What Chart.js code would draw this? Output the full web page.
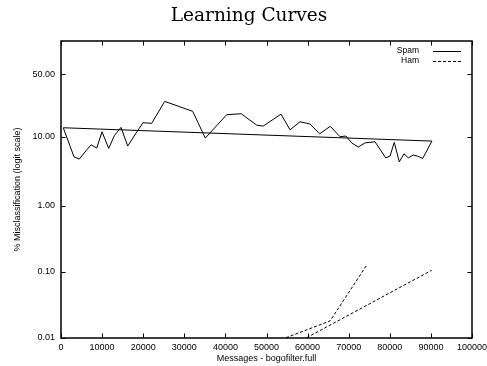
<!DOCTYPE html>
<html>
<head>
<meta charset="utf-8">
<script src="https://cdn.jsdelivr.net/npm/chart.js@4/dist/chart.umd.min.js"></script>
<style>
  html, body { margin: 0; padding: 0; background: #fff; }
  #wrap { width: 487px; height: 366px; }
</style>
</head>
<body>
<div id="wrap"><canvas id="c" width="487" height="366"></canvas></div>
<script>
// ---- data (percent misclassification vs messages) ----
const spamX = [560, 3160, 4450, 6080, 7300, 8690, 9980, 11600, 12970, 14600, 16230, 18420, 19950, 22070, 25230, 32040, 35110, 40320, 43870, 47600, 49220, 53530, 55720, 58150, 60580, 62940, 65520, 67880, 69340, 70730, 72330, 73960, 76400, 79000, 80050, 81090, 82310, 83450, 84500, 85710, 86780, 88000, 90260];
const spamY = [13.3, 5.27, 4.89, 6.43, 7.81, 7.02, 11.76, 6.94, 10.4, 13.46, 7.49, 11.66, 15.45, 15.2, 27.8, 21.4, 9.66, 19.5, 20.0, 14.4, 14.0, 19.8, 12.5, 15.9, 14.9, 11.05, 13.9, 10.1, 10.3, 8.3, 7.25, 8.3, 8.6, 5.1, 5.4, 8.43, 4.46, 5.83, 5.1, 5.58, 5.4, 5.0, 8.79];
const spamFitX = [560, 90260];
const spamFitY = [13.3, 8.79];
const hamX = [54740, 65450, 74520];
const hamY = [0.0101, 0.0181, 0.131];
const hamFitX = [59780, 90190];
const hamFitY = [0.0101, 0.106];
const yTickValues = [0.01, 0.10, 1.00, 10.00, 50.00];
const xTickStep = 10000;
const titleText = 'Learning Curves';
const xTitle = 'Messages - bogofilter.full';
const yTitle = '% Misclassification (logit scale)';

const pts = (xs, ys) => xs.map((x, i) => ({x: x, y: ys[i]}));

// ---- logit scale ----
const logit = p => { const q = p / 100; return Math.log(q / (1 - q)); };
class LogitScale extends Chart.Scale {
  determineDataLimits() {
    const mm = this.getMinMax(true);
    this.min = Number.isFinite(this.options.min) ? this.options.min : mm.min;
    this.max = Number.isFinite(this.options.max) ? this.options.max : mm.max;
  }
  buildTicks() {
    return yTickValues.filter(v => v >= this.min && v <= this.max).map(v => ({value: v}));
  }
  configure() {
    super.configure();
    this._lmin = logit(this.min);
    this._lrange = logit(this.max) - this._lmin;
  }
  getLabelForValue(v) { return Number(v).toFixed(2); }
  getPixelForValue(v) {
    return this.getPixelForDecimal((logit(v) - this._lmin) / this._lrange);
  }
  getValueForPixel(px) {
    const l = this._lmin + this.getDecimalForPixel(px) * this._lrange;
    return 100 / (1 + Math.exp(-l));
  }
}
LogitScale.id = 'logit';
LogitScale.defaults = {};
Chart.register(LogitScale);

const FONT = '"Liberation Sans", Arial, sans-serif';

const framePlugin = {
  id: 'frame',
  afterDraw(chart) {
    const {ctx, chartArea: a, scales: {x, y}} = chart;
    ctx.save();
    ctx.strokeStyle = '#000';
    ctx.lineWidth = 1;
    const tl = 4.5;
    ctx.beginPath();
    x.ticks.forEach(t => {
      const px = Math.round(x.getPixelForValue(t.value)) + 0.5;
      ctx.moveTo(px, a.bottom); ctx.lineTo(px, a.bottom - tl);
      ctx.moveTo(px, a.top); ctx.lineTo(px, a.top + tl);
    });
    y.ticks.forEach(t => {
      const py = Math.round(y.getPixelForValue(t.value)) + 0.5;
      ctx.moveTo(a.left, py); ctx.lineTo(a.left + tl, py);
      ctx.moveTo(a.right, py); ctx.lineTo(a.right - tl, py);
    });
    ctx.stroke();
    ctx.lineWidth = 1.5;
    ctx.strokeRect(a.left, a.top, a.right - a.left, a.bottom - a.top);

    // legend (top right, inside plot)
    ctx.font = '8.5px ' + FONT;
    ctx.fillStyle = '#000';
    ctx.textAlign = 'right';
    ctx.textBaseline = 'middle';
    ctx.lineWidth = 1;
    const shown = chart.data.datasets.filter(d => !d.hideInLegend);
    shown.forEach((d, i) => {
      const ly = a.top + 10 + i * 10;
      ctx.fillText(d.label, a.right - 53, ly);
      ctx.beginPath();
      ctx.setLineDash(d.borderDash || []);
      ctx.moveTo(a.right - 39, ly + 0.5);
      ctx.lineTo(a.right - 11, ly + 0.5);
      ctx.stroke();
      ctx.setLineDash([]);
    });

    // title
    ctx.font = '18.5px "DejaVu Serif", serif';
    ctx.textAlign = 'center';
    ctx.textBaseline = 'alphabetic';
    ctx.fillText(titleText, 249, 21);
    ctx.restore();
  }
};

const common = { borderColor: '#000', borderWidth: 1, pointRadius: 0, fill: false, tension: 0 };

new Chart(document.getElementById('c'), {
  type: 'line',
  data: {
    datasets: [
      Object.assign({ label: 'Spam', data: pts(spamX, spamY) }, common),
      Object.assign({ label: 'Spam fit', data: pts(spamFitX, spamFitY), hideInLegend: true }, common),
      Object.assign({ label: 'Ham', data: pts(hamX, hamY), borderDash: [3, 2] }, common),
      Object.assign({ label: 'Ham fit', data: pts(hamFitX, hamFitY), borderDash: [3, 2], hideInLegend: true }, common)
    ]
  },
  options: {
    responsive: false,
    animation: false,
    devicePixelRatio: 1,
    layout: { padding: { top: 41, right: 15, left: 0, bottom: 0 } },
    plugins: { legend: { display: false }, title: { display: false }, tooltip: { enabled: false } },
    scales: {
      x: {
        type: 'linear',
        min: 0, max: 100000,
        grid: { drawOnChartArea: false, drawTicks: false },
        border: { display: false },
        ticks: {
          stepSize: xTickStep, autoSkip: false, maxRotation: 0, minRotation: 0,
          padding: 4, color: '#000', font: { family: FONT, size: 9 },
          callback: v => String(v)
        },
        title: { display: true, text: xTitle, color: '#000', font: { family: FONT, size: 9 }, padding: { top: 0, bottom: 2 } },
        afterFit(s) { s.height = 28; s.paddingLeft = 0; s.paddingRight = 0; }
      },
      y: {
        type: 'logit',
        position: 'left',
        min: 0.01, max: 76,
        grid: { drawOnChartArea: false, drawTicks: false },
        border: { display: false },
        ticks: {
          autoSkip: false, padding: 6, color: '#000', font: { family: FONT, size: 9 },
          callback: v => Number(v).toFixed(2)
        },
        title: { display: true, text: yTitle, color: '#000', font: { family: FONT, size: 9 }, padding: { top: 12, bottom: 0 } },
        afterFit(s) { s.width = 61; s.paddingTop = 0; s.paddingBottom = 0; }
      }
    }
  },
  plugins: [framePlugin]
});
</script>
</body>
</html>
